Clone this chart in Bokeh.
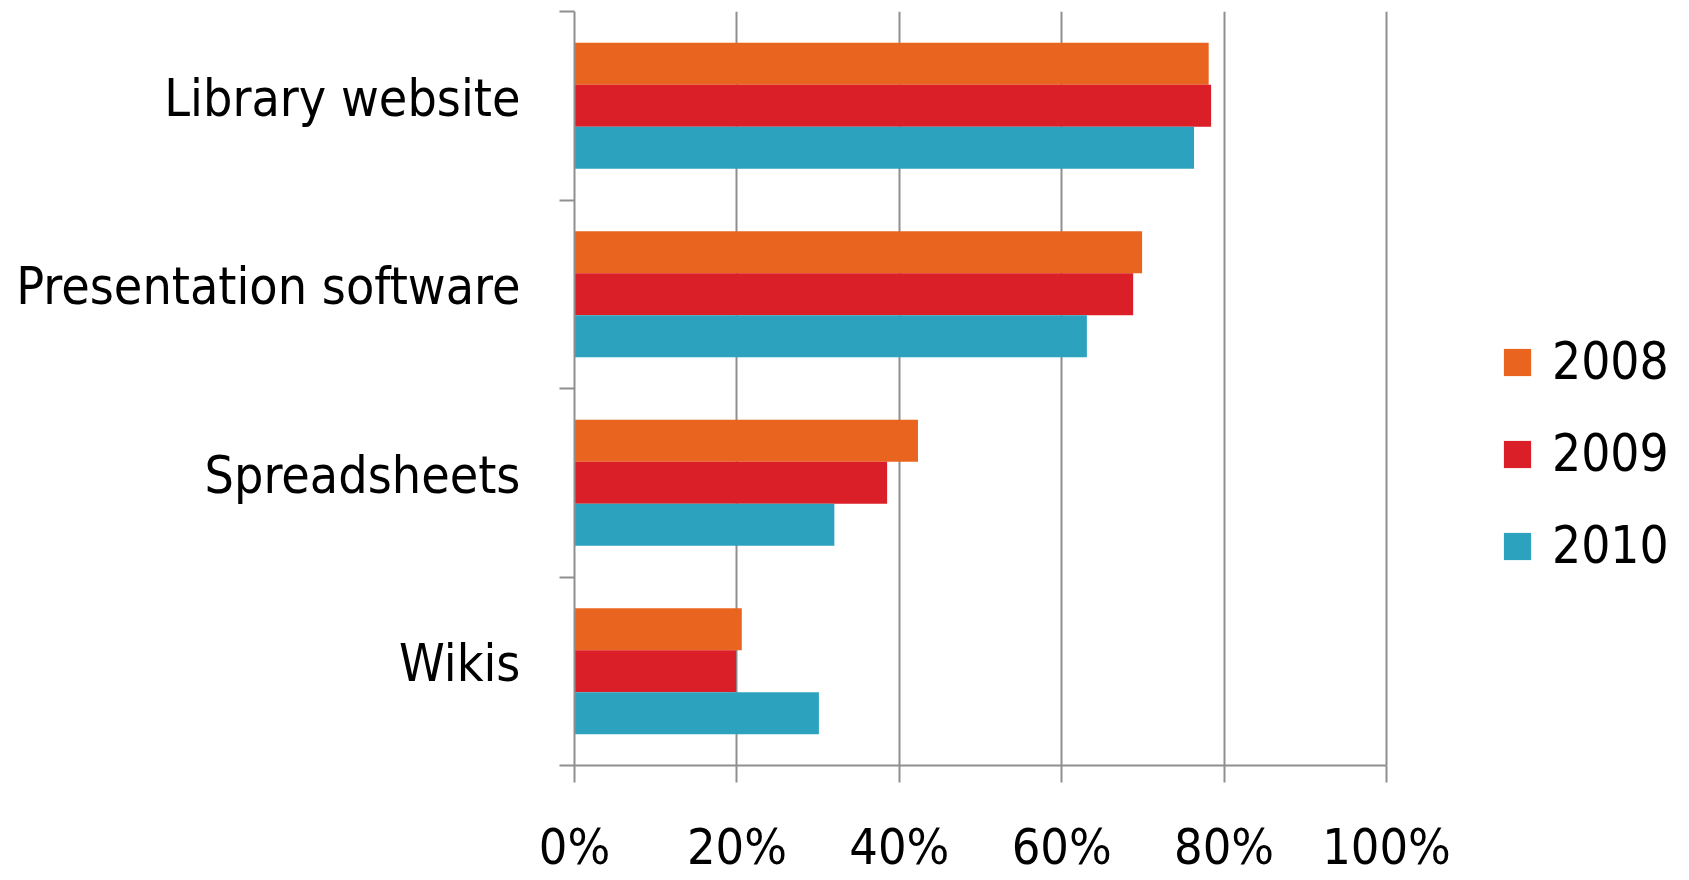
from bokeh.plotting import figure
from bokeh.models import (ColumnDataSource, Range1d, FixedTicker, NumeralTickFormatter,
                          Legend, LegendItem)
from bokeh.embed import file_html
from bokeh.resources import INLINE

categories = ["Library website", "Presentation software", "Spreadsheets", "Wikis"]
years = ["2008", "2009", "2010"]
values_2008 = [0.781, 0.699, 0.423, 0.206]
values_2009 = [0.784, 0.688, 0.385, 0.199]
values_2010 = [0.763, 0.631, 0.320, 0.301]
x_ticks = [0, 0.2, 0.4, 0.6, 0.8, 1.0]
colors = ["#E9641E", "#DA1F29", "#2CA2BF"]

FONT = "'DejaVu Sans Condensed', 'DejaVu Sans'"

n = len(categories)
centers = [n - 0.5 - i for i in range(n)]
boundaries = list(range(n + 1))
label_pos = [c + 0.042 for c in centers]

W, H = 1673, 878
LEFT, RIGHT100, TOP, BOTTOM = 574, 1386, 11, 766
x_end = (W - LEFT) / (RIGHT100 - LEFT)
p = figure(width=W, height=H, output_backend="svg", toolbar_location=None,
           x_range=Range1d(0, x_end), y_range=Range1d(0, n),
           min_border_left=LEFT, min_border_right=0, min_border_top=TOP,
           min_border_bottom=H - BOTTOM)
p.outline_line_color = None
p.background_fill_color = "white"

bar_h = 0.2225
offsets = [bar_h, 0.0, -bar_h]
series = [values_2008, values_2009, values_2010]
renderers = []
for yr, vals, off, col in zip(years, series, offsets, colors):
    src = ColumnDataSource(dict(y=[c + off for c in centers], right=vals))
    r = p.hbar(y="y", left=0, right="right", height=bar_h, source=src,
               fill_color=col, line_color=None)
    renderers.append((yr, r))

# x axis
p.xaxis.bounds = (0, 1)
p.xaxis.ticker = FixedTicker(ticks=x_ticks)
p.xaxis.formatter = NumeralTickFormatter(format="0%")
p.xaxis.axis_line_color = "#8f8f8f"
p.xaxis.axis_line_width = 2
p.xaxis.major_tick_line_color = "#8f8f8f"
p.xaxis.major_tick_line_width = 2
p.xaxis.major_tick_in = 0
p.xaxis.major_tick_out = 17
p.xaxis.minor_tick_line_color = None
p.xaxis.major_label_text_font = FONT
p.xaxis.major_label_text_font_size = "50px"
p.xaxis.major_label_text_color = "black"
p.xaxis.major_label_standoff = 35

# grid
p.xgrid.ticker = FixedTicker(ticks=x_ticks)
p.xgrid.grid_line_color = "#8f8f8f"
p.xgrid.grid_line_width = 2
p.ygrid.grid_line_color = None

# y axis
p.yaxis.ticker = FixedTicker(ticks=label_pos, minor_ticks=boundaries)
p.yaxis.major_label_overrides = {c: name for c, name in zip(label_pos, categories)}
p.yaxis.axis_line_color = "#8f8f8f"
p.yaxis.axis_line_width = 2
p.yaxis.major_tick_line_color = None
p.yaxis.major_tick_in = 0
p.yaxis.major_tick_out = 0
p.yaxis.minor_tick_line_color = "#8f8f8f"
p.yaxis.minor_tick_line_width = 2
p.yaxis.minor_tick_in = 0
p.yaxis.minor_tick_out = 15
p.yaxis.major_label_text_font = FONT
p.yaxis.major_label_text_font_size = "51.5px"
p.yaxis.major_label_text_color = "black"
p.yaxis.major_label_standoff = 39

legend = Legend(items=[LegendItem(label=yr, renderers=[r]) for yr, r in renderers],
                location=(1500 - LEFT, 190), orientation="vertical")
legend.glyph_width = 34
legend.glyph_height = 34
legend.label_height = 34
legend.label_standoff = 18
legend.label_text_font = FONT
legend.label_text_font_size = "51px"
legend.label_text_color = "black"
legend.spacing = 33
legend.padding = 0
legend.margin = 0
legend.border_line_color = None
legend.background_fill_alpha = 0
p.add_layout(legend, "center")

open("out.html", "w").write(file_html(p, INLINE))
